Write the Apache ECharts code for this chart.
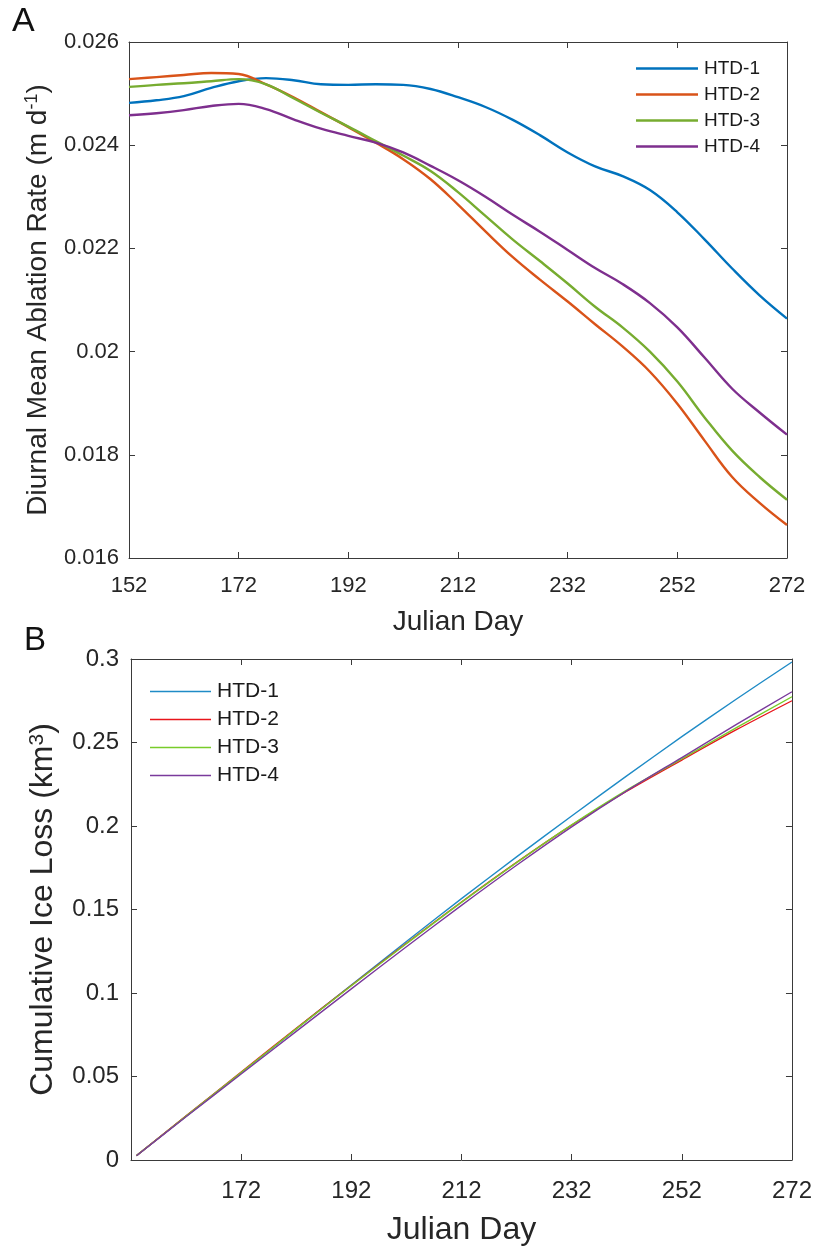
<!DOCTYPE html>
<html>
<head>
<meta charset="utf-8">
<script src="https://cdn.jsdelivr.net/npm/echarts@6/dist/echarts.min.js"></script>
<style>
  html, body { margin: 0; padding: 0; background: #ffffff; }
  #chart { width: 815px; height: 1247px; }
</style>
</head>
<body>
<div id="chart"></div>
<script>
// ---------- Panel A: diurnal mean ablation rate (m d^-1) ----------
const rateDays = [152, 157, 162, 167, 172, 177, 182, 187, 192, 197, 202, 207, 212,
                  217, 222, 227, 232, 237, 242, 247, 252, 257, 262, 267, 272];
const htd1Rate = [0.02482, 0.02487, 0.02495, 0.02511, 0.02524, 0.02530, 0.02526, 0.02518, 0.02517,
                  0.02518, 0.02517, 0.02509, 0.02493, 0.02474, 0.02449, 0.02419, 0.02386, 0.02359,
                  0.02340, 0.02313, 0.02270, 0.02217, 0.02161, 0.02109, 0.02064];
const htd2Rate = [0.02528, 0.02532, 0.02536, 0.02540, 0.02538, 0.02518, 0.02493, 0.02464, 0.02435,
                  0.02405, 0.02373, 0.02334, 0.02285, 0.02233, 0.02183, 0.02139, 0.02097, 0.02053,
                  0.02010, 0.01961, 0.01899, 0.01827, 0.01757, 0.01707, 0.01664];
const htd3Rate = [0.02513, 0.02517, 0.02520, 0.02524, 0.02528, 0.02518, 0.02491, 0.02463, 0.02436,
                  0.02408, 0.02380, 0.02350, 0.02309, 0.02263, 0.02217, 0.02175, 0.02132, 0.02087,
                  0.02047, 0.02000, 0.01942, 0.01872, 0.01808, 0.01757, 0.01713];
const htd4Rate = [0.02458, 0.02462, 0.02468, 0.02476, 0.02480, 0.02470, 0.02450, 0.02432, 0.02418,
                  0.02405, 0.02386, 0.02360, 0.02332, 0.02300, 0.02265, 0.02232, 0.02197, 0.02162,
                  0.02131, 0.02094, 0.02047, 0.01988, 0.01928, 0.01882, 0.01839];

// ---------- Panel B: cumulative ice loss (km^3) ----------
const cumDays = [153, 162, 172, 182, 192, 202, 212, 222, 232, 242, 252, 262, 272];
const htd1Cum = [0.0026, 0.0262, 0.0521, 0.0785, 0.1048, 0.1308, 0.1565, 0.1815, 0.2060, 0.2300, 0.2535, 0.2762, 0.2982];
const htd2Cum = [0.0026, 0.0264, 0.0527, 0.0788, 0.1045, 0.1298, 0.1545, 0.1782, 0.2005, 0.2208, 0.2395, 0.2578, 0.2750];
const htd3Cum = [0.0026, 0.0263, 0.0524, 0.0785, 0.1043, 0.1295, 0.1543, 0.1781, 0.2007, 0.2215, 0.2402, 0.2590, 0.2774];
const htd4Cum = [0.0025, 0.0259, 0.0515, 0.0770, 0.1025, 0.1277, 0.1525, 0.1765, 0.1995, 0.2210, 0.2410, 0.2610, 0.2804];

const seriesNames = ['HTD-1', 'HTD-2', 'HTD-3', 'HTD-4'];

const colorsA = ['#0072BD', '#D95319', '#77AC30', '#7E2F8E'];
const colorsB = ['#1F8BC6', '#E8141B', '#78CC2A', '#7A3A9C'];

const FONT = '"Liberation Sans", Arial, Helvetica, sans-serif';
const TXT = '#262626';
const AX = '#3a3a3a';

function pairs(xs, ys) { return xs.map((x, i) => [x, ys[i]]); }

const chart = echarts.init(document.getElementById('chart'), null, { renderer: 'canvas' });

function boxAxis(grid, pos, min, max, interval) {
  return {
    type: 'value', gridIndex: grid, position: pos, min: min, max: max, interval: interval,
    axisLine: { show: true, onZero: false, lineStyle: { color: AX, width: 1 } },
    axisTick: { show: true, inside: true, length: 6, lineStyle: { color: AX } },
    axisLabel: { show: false },
    splitLine: { show: false }
  };
}

const option = {
  backgroundColor: '#ffffff',
  animation: false,
  textStyle: { fontFamily: FONT },
  grid: [
    { left: 129, top: 42, width: 658, height: 516 },
    { left: 131, top: 659, width: 661, height: 504 }
  ],
  xAxis: [
    {
      type: 'value', gridIndex: 0, position: 'bottom', min: 152, max: 272, interval: 20,
      axisLine: { show: true, onZero: false, lineStyle: { color: AX, width: 1 } },
      axisTick: { show: true, inside: true, length: 6, lineStyle: { color: AX } },
      axisLabel: { show: true, margin: 17, fontSize: 22, color: TXT, fontFamily: FONT },
      splitLine: { show: false },
      name: 'Julian Day', nameLocation: 'middle', nameGap: 50,
      nameTextStyle: { fontSize: 28, color: TXT, fontFamily: FONT }
    },
    {
      type: 'value', gridIndex: 1, position: 'bottom', min: 152, max: 272, interval: 20,
      axisLine: { show: true, onZero: false, lineStyle: { color: AX, width: 1 } },
      axisTick: { show: true, inside: true, length: 6, lineStyle: { color: AX } },
      axisLabel: {
        show: true, margin: 19, fontSize: 24, color: TXT, fontFamily: FONT,
        formatter: v => (v === 152 ? '' : String(v))
      },
      splitLine: { show: false },
      name: 'Julian Day', nameLocation: 'middle', nameGap: 54,
      nameTextStyle: { fontSize: 32, color: TXT, fontFamily: FONT }
    },
    boxAxis(0, 'top', 152, 272, 20),
    boxAxis(1, 'top', 152, 272, 20)
  ],
  yAxis: [
    {
      type: 'value', gridIndex: 0, position: 'left', min: 0.016, max: 0.026, interval: 0.002,
      axisLine: { show: true, onZero: false, lineStyle: { color: AX, width: 1 } },
      axisTick: { show: true, inside: true, length: 6, lineStyle: { color: AX } },
      axisLabel: {
        show: true, margin: 10, fontSize: 22, color: TXT, fontFamily: FONT,
        formatter: v => String(+v.toFixed(3))
      },
      splitLine: { show: false },
      name: 'Diurnal Mean Ablation Rate (m d{sup|-1})', nameLocation: 'middle', nameGap: 76, nameRotate: 90,
      nameTextStyle: {
        fontSize: 28, color: TXT, fontFamily: FONT, lineHeight: 30,
        rich: { sup: { fontSize: 18, color: TXT, fontFamily: FONT, verticalAlign: 'top', lineHeight: 30, padding: [0, 0, 12, 0] } }
      }
    },
    {
      type: 'value', gridIndex: 1, position: 'left', min: 0, max: 0.3, interval: 0.05,
      axisLine: { show: true, onZero: false, lineStyle: { color: AX, width: 1 } },
      axisTick: { show: true, inside: true, length: 6, lineStyle: { color: AX } },
      axisLabel: {
        show: true, margin: 12, fontSize: 24, color: TXT, fontFamily: FONT,
        formatter: v => String(+v.toFixed(2))
      },
      splitLine: { show: false },
      name: 'Cumulative Ice Loss (km{sup|3})', nameLocation: 'middle', nameGap: 67, nameRotate: 90,
      nameTextStyle: {
        fontSize: 32, color: TXT, fontFamily: FONT, lineHeight: 34,
        rich: { sup: { fontSize: 21, color: TXT, fontFamily: FONT, verticalAlign: 'top', lineHeight: 34, padding: [0, 0, 14, 0] } }
      }
    },
    boxAxis(0, 'right', 0.016, 0.026, 0.002),
    boxAxis(1, 'right', 0, 0.3, 0.05)
  ],
  legend: [
    {
      data: seriesNames.map(n => n + ' '),
      orient: 'vertical', left: 631, top: 54,
      icon: 'rect', itemWidth: 62, itemHeight: 2.4, itemGap: 7,
      textStyle: { fontSize: 19, color: '#1a1a1a', fontFamily: FONT, padding: [0, 0, 0, 1] },
      selectedMode: false
    },
    {
      data: seriesNames,
      orient: 'vertical', left: 145, top: 676,
      icon: 'rect', itemWidth: 61, itemHeight: 1.6, itemGap: 7,
      textStyle: { fontSize: 21, color: '#1a1a1a', fontFamily: FONT, padding: [0, 0, 0, 1] },
      selectedMode: false
    }
  ],
  series: [
    ...[htd1Rate, htd2Rate, htd3Rate, htd4Rate].map((arr, i) => ({
      name: seriesNames[i] + ' ', type: 'line', xAxisIndex: 0, yAxisIndex: 0,
      data: pairs(rateDays, arr), smooth: 0.4, symbol: 'none', showSymbol: false,
      lineStyle: { color: colorsA[i], width: 2.4 }, itemStyle: { color: colorsA[i] }, z: 3
    })),
    ...[htd1Cum, htd2Cum, htd3Cum, htd4Cum].map((arr, i) => ({
      name: seriesNames[i], type: 'line', xAxisIndex: 1, yAxisIndex: 1,
      data: pairs(cumDays, arr), smooth: 0.3, symbol: 'none', showSymbol: false,
      lineStyle: { color: colorsB[i], width: 1.4 }, itemStyle: { color: colorsB[i] }, z: 3
    }))
  ],
  graphic: [
    { type: 'text', left: 12, top: 5, style: { text: 'A', fontSize: 34, fill: '#111', fontFamily: FONT } },
    { type: 'text', left: 24, top: 624, style: { text: 'B', fontSize: 33, fill: '#111', fontFamily: FONT } }
  ]
};

chart.setOption(option);
</script>
</body>
</html>
